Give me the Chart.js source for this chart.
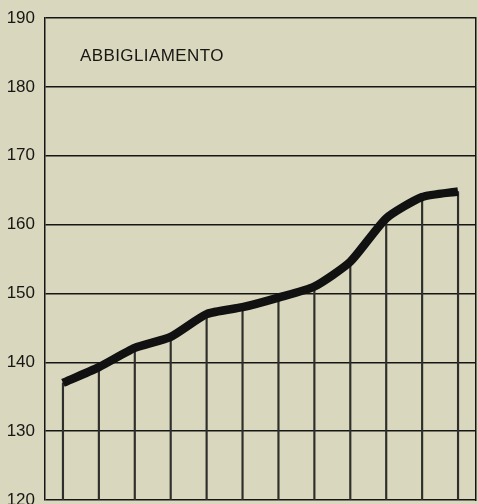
<!DOCTYPE html>
<html>
<head>
<meta charset="utf-8">
<script src="https://cdn.jsdelivr.net/npm/chart.js@4.4.0/dist/chart.umd.min.js"></script>
<style>
  html, body { margin: 0; padding: 0; background: #d9d7bd; }
  #wrap { width: 478px; height: 504px; }
</style>
</head>
<body>
<div id="wrap"><canvas id="chart"></canvas></div>
<script>
// dati
const periods = ['1', '2', '3', '4', '5', '6', '7', '8', '9', '10', '11', '12'];
const values = [137, 139.3, 142.1, 143.7, 147, 148, 149.4, 151, 154.6, 160.9, 164, 164.8];
const yTicks = [120, 130, 140, 150, 160, 170, 180, 190];
const chartTitle = 'ABBIGLIAMENTO';

const ink = '#161614';

// titolo dentro l'area del grafico
const titlePlugin = {
  id: 'insideTitle',
  afterDraw(chart) {
    const ctx = chart.ctx;
    ctx.save();
    ctx.font = '17px "Liberation Sans", Arial, sans-serif';
    ctx.fillStyle = ink;
    ctx.textBaseline = 'middle';
    if ('letterSpacing' in ctx) ctx.letterSpacing = '0.4px';
    ctx.fillText(chartTitle, chart.chartArea.left + 35, 56);
    ctx.restore();
  }
};

new Chart(document.getElementById('chart'), {
  data: {
    labels: periods,
    datasets: [
      {
        type: 'line',
        data: values,
        borderColor: '#111',
        borderWidth: 8.5,
        pointRadius: 0,
        tension: 0.2,
        borderJoinStyle: 'round',
        order: 0
      },
      {
        type: 'bar',
        data: values,
        backgroundColor: '#2e2e2b',
        barThickness: 1.5,
        order: 1
      }
    ]
  },
  options: {
    responsive: true,
    maintainAspectRatio: false,
    animation: false,
    layout: { padding: { left: 0, right: 2, top: 18, bottom: 4 } },
    plugins: {
      legend: { display: false },
      tooltip: { enabled: false }
    },
    scales: {
      x: {
        display: false,
        offset: true
      },
      y: {
        min: 120,
        max: 190,
        afterBuildTicks: (axis) => { axis.ticks = yTicks.map(v => ({ value: v })); },
        afterFit: (axis) => {
          axis.width = 45;
          axis.paddingTop = 0;
          axis.paddingBottom = 0;
        },
        ticks: {
          color: ink,
          padding: 10,
          font: { size: 17, family: '"Liberation Sans", Arial, sans-serif' }
        },
        grid: { color: ink, lineWidth: 1.5, drawTicks: false },
        border: { color: ink, width: 1.5 }
      },
      y2: {
        position: 'right',
        min: 120,
        max: 190,
        ticks: { display: false },
        grid: { display: false, drawTicks: false },
        border: { color: ink, width: 1.5 }
      }
    }
  },
  plugins: [titlePlugin]
});
</script>
</body>
</html>
